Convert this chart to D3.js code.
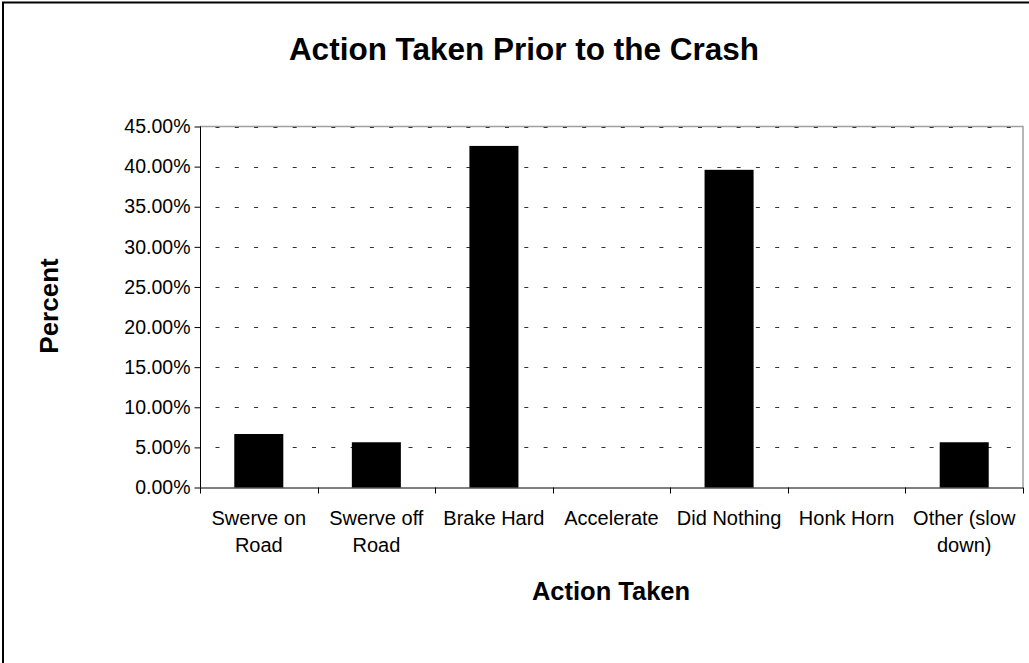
<!DOCTYPE html>
<html>
<head>
<meta charset="utf-8">
<script src="https://cdn.jsdelivr.net/npm/d3@7"></script>
<style>
  body { margin: 0; background: #fff; }
  svg { display: block; font-family: "Liberation Sans", Arial, sans-serif; }
</style>
</head>
<body>
<div id="chart"></div>
<script>
// data
var categories = ["Swerve on Road", "Swerve off Road", "Brake Hard", "Accelerate", "Did Nothing", "Honk Horn", "Other (slow down)"];
var percents = [0.0667, 0.0564, 0.4258, 0, 0.396, 0, 0.0564];
var yTicks = [0, 0.05, 0.10, 0.15, 0.20, 0.25, 0.30, 0.35, 0.40, 0.45];

var width = 1029, height = 663;
var plot = {left: 200, right: 1023, top: 126.5, bottom: 487.5};

var svg = d3.select("#chart").append("svg").attr("width", width).attr("height", height);

// outer frame (runs past the picture on right/bottom)
svg.append("rect").attr("x", 3).attr("y", 2.5).attr("width", 1100).attr("height", 700)
    .attr("fill", "none").attr("stroke", "#000").attr("stroke-width", 2);

var x = d3.scaleBand().domain(categories).range([plot.left, plot.right])
    .paddingInner(0.583).paddingOuter(0.2915);
var xCell = d3.scaleBand().domain(categories).range([plot.left, plot.right]).padding(0);
var y = d3.scaleLinear().domain([0, 0.45]).range([plot.bottom, plot.top]);

// plot area border (grey top/right)
svg.append("path")
    .attr("d", "M" + plot.left + "," + plot.top + "H" + plot.right + "V" + plot.bottom)
    .attr("fill", "none").attr("stroke", "#a0a0a0").attr("stroke-width", 1.5);

// dashed gridlines
svg.append("g").selectAll("line").data(yTicks.filter(function(d) { return d > 0; })).enter()
    .append("line")
    .attr("x1", plot.left).attr("x2", plot.right)
    .attr("y1", function(d) { return Math.round(y(d)) + 0.5; })
    .attr("y2", function(d) { return Math.round(y(d)) + 0.5; })
    .attr("stroke", "#333").attr("stroke-width", 1)
    .attr("stroke-dasharray", "4,15.3").attr("stroke-dashoffset", -15.5);

// bars
svg.append("g").selectAll("rect").data(categories).enter().append("rect")
    .attr("x", function(d) { return x(d); })
    .attr("width", x.bandwidth())
    .attr("y", function(d, i) { return y(percents[i]); })
    .attr("height", function(d, i) { return plot.bottom - y(percents[i]); })
    .attr("fill", "#000");

// y axis
var yAxis = svg.append("g").attr("transform", "translate(" + (plot.left + 0.5) + ",0)")
    .call(d3.axisLeft(y).tickValues(yTicks).tickFormat(d3.format(".2%")).tickSize(6).tickPadding(4));
yAxis.select(".domain").attr("d", "M0," + plot.top + "V" + plot.bottom).attr("stroke", "#000");
yAxis.selectAll("text").attr("font-size", 19.5).attr("fill", "#000")
    .attr("font-family", "'Liberation Sans', Arial, sans-serif");

// x axis line and boundary ticks
var xg = svg.append("g");
xg.append("line").attr("x1", plot.left).attr("x2", plot.right)
    .attr("y1", plot.bottom + 0.5).attr("y2", plot.bottom + 0.5).attr("stroke", "#000");
xg.selectAll(".tk").data(d3.range(categories.length + 1)).enter().append("line")
    .attr("x1", function(i) { return Math.round(plot.left + i * xCell.step()) + 0.5; })
    .attr("x2", function(i) { return Math.round(plot.left + i * xCell.step()) + 0.5; })
    .attr("y1", plot.bottom).attr("y2", plot.bottom + 6)
    .attr("stroke", "#000");

// category labels, wrapped to the cell width
var labels = xg.selectAll(".lbl").data(categories).enter().append("text")
    .attr("text-anchor", "middle").attr("font-size", 20).attr("fill", "#000")
    .attr("x", function(d) { return xCell(d) + xCell.step() / 2; })
    .attr("y", 525);

labels.each(function(d) {
    var t = d3.select(this), cx = +t.attr("x");
    var words = d.split(" "), line = [], lines = [];
    var probe = t.append("tspan");
    words.forEach(function(w) {
        line.push(w);
        probe.text(line.join(" "));
        if (probe.node().getComputedTextLength() > xCell.step() - 6 && line.length > 1) {
            line.pop();
            lines.push(line.join(" "));
            line = [w];
        }
    });
    lines.push(line.join(" "));
    probe.remove();
    lines.forEach(function(l, i) {
        t.append("tspan").attr("x", cx).attr("dy", i === 0 ? 0 : 26.5).text(l);
    });
});

// titles
svg.append("text").attr("x", 524).attr("y", 60).attr("text-anchor", "middle")
    .attr("font-size", 31.5).attr("font-weight", "bold").text("Action Taken Prior to the Crash");
svg.append("text").attr("x", 611).attr("y", 600).attr("text-anchor", "middle")
    .attr("font-size", 25.5).attr("font-weight", "bold").text("Action Taken");
svg.append("text").attr("transform", "translate(58,306) rotate(-90)").attr("text-anchor", "middle")
    .attr("font-size", 26).attr("font-weight", "bold").text("Percent");
</script>
</body>
</html>
